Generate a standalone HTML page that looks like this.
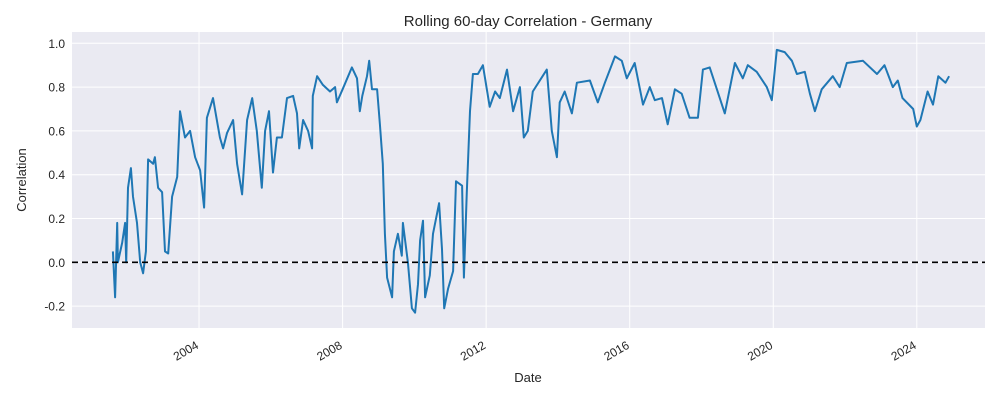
<!DOCTYPE html>
<html><head><meta charset="utf-8"><style>
body{margin:0;background:#fff;}
svg{display:block;font-family:"Liberation Sans",sans-serif;}
</style></head><body>
<svg id="chart" width="1000" height="400">
<rect x="72" y="32" width="913" height="296" fill="#EAEAF2"/>
<g id="grid"></g>
<g id="series"></g>
<g id="ticks"></g>
<text x="528" y="26" text-anchor="middle" font-size="15" fill="#262626">Rolling 60-day Correlation - Germany</text>
<text x="528" y="382" text-anchor="middle" font-size="13" fill="#262626">Date</text>
<text transform="translate(26,180) rotate(-90)" text-anchor="middle" font-size="13" fill="#262626">Correlation</text>
</svg>
<script>
const years=[2001.6,2001.66,2001.72,2001.74,2001.86,2001.94,2001.97,2002.02,2002.1,2002.16,2002.27,2002.36,2002.44,2002.52,2002.58,2002.72,2002.77,2002.86,2002.97,2003.05,2003.14,2003.25,2003.39,2003.47,2003.61,2003.75,2003.89,2004.03,2004.14,2004.22,2004.39,2004.58,2004.67,2004.78,2004.95,2005.06,2005.2,2005.34,2005.48,2005.61,2005.75,2005.84,2005.95,2006.06,2006.17,2006.31,2006.45,2006.62,2006.73,2006.79,2006.9,2007.04,2007.15,2007.17,2007.29,2007.45,2007.65,2007.79,2007.84,2008.0,2008.26,2008.4,2008.48,2008.55,2008.68,2008.74,2008.82,2008.96,2009.04,2009.12,2009.18,2009.24,2009.38,2009.43,2009.54,2009.65,2009.68,2009.82,2009.93,2010.02,2010.1,2010.16,2010.24,2010.3,2010.43,2010.52,2010.69,2010.77,2010.83,2010.94,2011.08,2011.16,2011.33,2011.38,2011.46,2011.55,2011.63,2011.77,2011.91,2012.1,2012.25,2012.38,2012.58,2012.75,2012.94,2013.05,2013.16,2013.3,2013.69,2013.83,2013.97,2014.05,2014.19,2014.39,2014.53,2014.89,2015.11,2015.31,2015.59,2015.78,2015.92,2016.14,2016.37,2016.56,2016.7,2016.9,2017.06,2017.26,2017.45,2017.67,2017.9,2018.04,2018.23,2018.43,2018.65,2018.93,2019.15,2019.29,2019.54,2019.82,2019.96,2020.1,2020.32,2020.52,2020.66,2020.88,2021.02,2021.16,2021.35,2021.66,2021.85,2022.05,2022.5,2022.89,2023.1,2023.33,2023.47,2023.6,2023.9,2024.0,2024.1,2024.3,2024.45,2024.6,2024.8,2024.9];
const corr=[0.05,-0.16,0.18,0.0,0.09,0.18,0.0,0.34,0.43,0.30,0.18,0.0,-0.05,0.05,0.47,0.45,0.48,0.34,0.32,0.05,0.04,0.30,0.39,0.69,0.57,0.60,0.48,0.42,0.25,0.66,0.75,0.57,0.52,0.59,0.65,0.45,0.31,0.65,0.75,0.60,0.34,0.60,0.69,0.41,0.57,0.57,0.75,0.76,0.68,0.52,0.65,0.60,0.52,0.76,0.85,0.81,0.78,0.80,0.73,0.79,0.89,0.84,0.69,0.76,0.85,0.92,0.79,0.79,0.63,0.45,0.13,-0.07,-0.16,0.05,0.13,0.03,0.18,0.0,-0.21,-0.23,-0.10,0.10,0.19,-0.16,-0.06,0.13,0.27,0.06,-0.21,-0.12,-0.04,0.37,0.35,-0.07,0.32,0.69,0.86,0.86,0.90,0.71,0.78,0.75,0.88,0.69,0.80,0.57,0.60,0.78,0.88,0.60,0.48,0.73,0.78,0.68,0.82,0.83,0.73,0.82,0.94,0.92,0.84,0.91,0.72,0.80,0.74,0.75,0.63,0.79,0.77,0.66,0.66,0.88,0.89,0.79,0.68,0.91,0.84,0.90,0.87,0.80,0.74,0.97,0.96,0.92,0.86,0.87,0.77,0.69,0.79,0.85,0.80,0.91,0.92,0.86,0.90,0.80,0.83,0.75,0.70,0.62,0.65,0.78,0.72,0.85,0.82,0.85];
const yTicks=[-0.2,0.0,0.2,0.4,0.6,0.8,1.0];
const xTicks=[2004,2008,2012,2016,2020,2024];
const NS='http://www.w3.org/2000/svg';
const X0=72,X1=985,Y0=32,Y1=328,xmin=2000.46,xmax=2025.9,ymin=-0.3,ymax=1.0516;
const xs=v=>X0+(v-xmin)/(xmax-xmin)*(X1-X0);
const ys=v=>Y1-(v-ymin)/(ymax-ymin)*(Y1-Y0);
function mk(t,a,p){const e=document.createElementNS(NS,t);for(const k in a)e.setAttribute(k,a[k]);p.appendChild(e);return e;}
const grid=document.getElementById('grid'),ticks=document.getElementById('ticks'),series=document.getElementById('series');
yTicks.forEach(v=>{
 const l=mk('line',{x1:X0,x2:X1,y1:ys(v),y2:ys(v),stroke:'#fff','stroke-width':1},grid);
 
 
 const t=mk('text',{x:X0-7,y:ys(v)+4.5,'text-anchor':'end','font-size':12,fill:'#262626'},ticks);
 t.textContent=v.toFixed(1);
 
 
});
xTicks.forEach(v=>{
 const l=mk('line',{x1:xs(v),x2:xs(v),y1:Y0,y2:Y1,stroke:'#fff','stroke-width':1},grid);
 
 
 const t=mk('text',{transform:`translate(${xs(v)-4},${Y1+12}) rotate(-30)`,'text-anchor':'end','font-size':12,fill:'#262626','dominant-baseline':'hanging'},ticks);
 t.textContent=v;
 
 
});
const d=years.map((y,i)=>(i?'L':'M')+xs(y).toFixed(1)+','+ys(corr[i]).toFixed(1)).join('');
const p=mk('path',{d:d,fill:'none',stroke:'#1f77b4','stroke-width':2,'stroke-linejoin':'round'},series);


const z=mk('line',{x1:X0,x2:X1,y1:ys(0),y2:ys(0),stroke:'#000','stroke-width':1.7,'stroke-dasharray':'6,4'},series);


</script>
</body></html>
